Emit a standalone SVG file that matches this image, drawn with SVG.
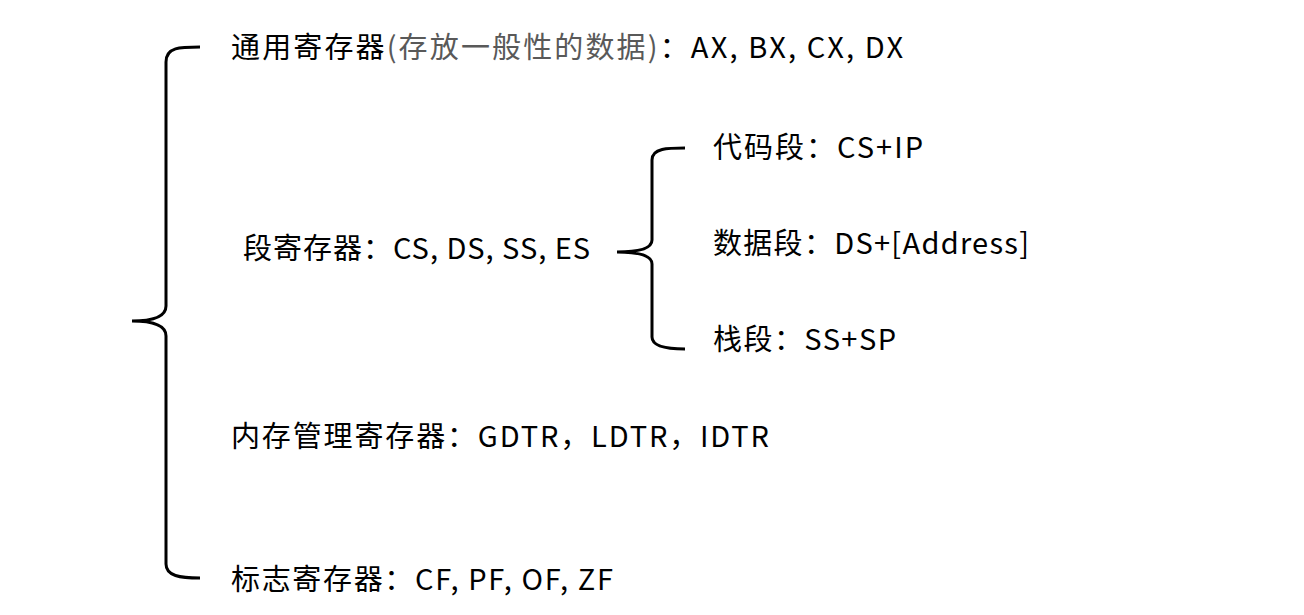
<svg xmlns="http://www.w3.org/2000/svg" width="1304" height="615" viewBox="0 0 1304 615">
<style>
.t{font-family:"Noto Sans CJK SC","Noto Sans",sans-serif;font-size:29px;fill:#000}
.g{fill:#595959}
.b{fill:none;stroke:#000;stroke-width:3;stroke-linecap:butt}
</style>
<rect width="1304" height="615" fill="#fff"/>
<g id="connectors">
<path class="b" d="M200,47 C180,47 166,47 166,62 L166,306 C166,318 150,321 132,321 C150,321 166,324 166,336 L166,564 C166,576 180,578 200,578"/>
<path class="b" d="M685,148 C668,148 652,148 652,160 L652,240 C652,249 636,252 617,252 C636,252 652,255 652,264 L652,337 C652,347 668,349 685,349"/>
</g>
<g id="general"><text class="t" x="231" y="58" textLength="672">通用寄存器<tspan class="g">(存放一般性的数据)</tspan>：AX, BX, CX, DX</text></g>
<g id="segment"><text class="t" x="243" y="259" textLength="347">段寄存器：CS, DS, SS, ES</text></g>
<g id="code"><text class="t" x="713" y="158" textLength="210">代码段：CS+IP</text></g>
<g id="data"><text class="t" x="713" y="254" textLength="316">数据段：DS+[Address]</text></g>
<g id="stack"><text class="t" x="713" y="350" textLength="183">栈段：SS+SP</text></g>
<g id="memory"><text class="t" x="231" y="447" textLength="538">内存管理寄存器：GDTR，LDTR，IDTR</text></g>
<g id="flags"><text class="t" x="231" y="590" textLength="382">标志寄存器：CF, PF, OF, ZF</text></g>
</svg>
